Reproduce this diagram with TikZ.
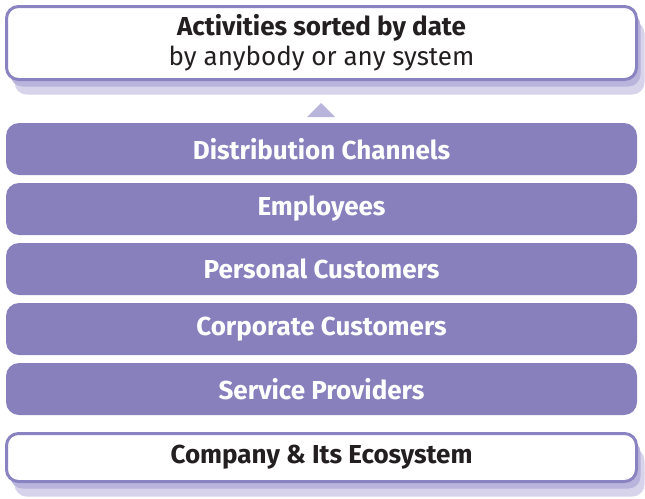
\documentclass[tikz,border=0pt]{standalone}
\usepackage{fontspec}
\setmainfont{Fira Sans}
\definecolor{BarPurple}{RGB}{135,128,189}
\definecolor{EdgePurple}{RGB}{138,131,194}
\definecolor{ShadeDark}{RGB}{185,180,219}
\definecolor{ShadeLight}{RGB}{214,211,234}
\definecolor{TextDark}{RGB}{35,31,32}
\usetikzlibrary{positioning,shapes,shadows,calc}
\tikzset{>=latex}
\tikzset{
  layerbar/.style={rectangle,rounded corners=13pt,fill=BarPurple,text=white,
    font=\bfseries\fontsize{26}{30}\selectfont,minimum width=631pt,minimum height=52pt,inner sep=0pt},
  framebox/.style={rectangle,rounded corners=12pt,draw=EdgePurple,line width=3pt,fill=white,
    text=TextDark,minimum width=630pt,inner sep=0pt,align=center,
    general shadow={fill=ShadeLight,shadow xshift=8pt,shadow yshift=-15pt},
    general shadow={fill=ShadeDark,shadow xshift=4pt,shadow yshift=-7pt}},
}

\begin{document}
\begin{tikzpicture}[x=1pt,y=1pt]
        \useasboundingbox (0,0) rectangle (645,-498);
        % result on top
        \node[framebox,minimum height=73pt,font=\fontsize{26}{30}\selectfont] at (321.5,-43) (sorted)
            {\textbf{Activities sorted by date}\\by anybody or any system};
        \fill[ShadeDark] (307,-117) -- (321,-103) -- (335,-117) -- cycle;
        % the layers
        \node[layerbar] at (321.5,-149) (channels) {Distribution Channels};
        \node[layerbar] at (321.5,-209) (employees) {Employees};
        \node[layerbar] at (321.5,-269) (personal) {Personal Customers};
        \node[layerbar] at (321.5,-329) (corporate) {Corporate Customers};
        \node[layerbar] at (321.5,-389) (providers) {Service Providers};
        % base
        \node[framebox,minimum height=48pt,font=\bfseries\fontsize{26}{30}\selectfont] at (321.5,-457.5) (company)
            {Company \& Its Ecosystem};
    \end{tikzpicture}
\end{document}
